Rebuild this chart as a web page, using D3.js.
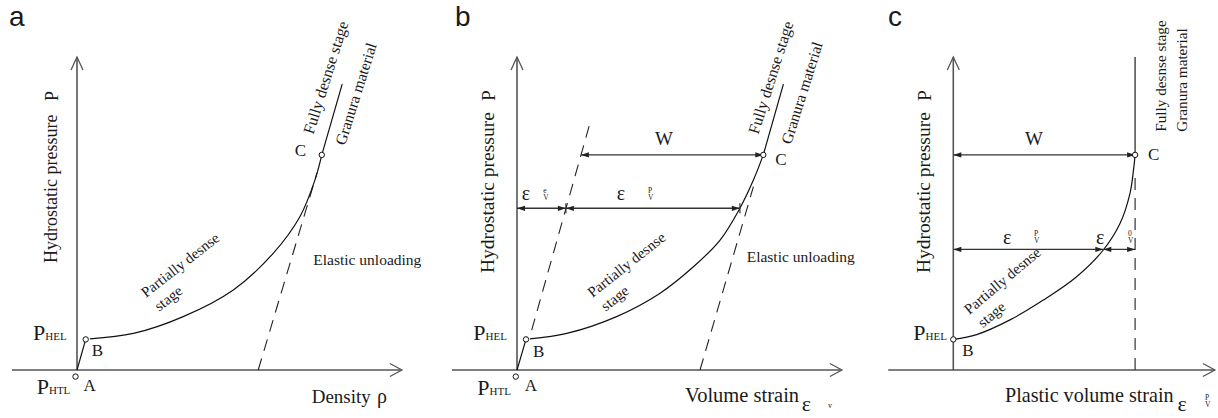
<!DOCTYPE html>
<html><head><meta charset="utf-8">
<script src="https://cdn.jsdelivr.net/npm/d3@7"></script>
<style>
html,body{margin:0;padding:0;background:#fff;}
svg{display:block;}
text{font-family:"Liberation Serif","Times New Roman",serif;fill:#1a1a1a;}
</style></head><body>
<svg id="chart" width="1218" height="418"></svg>
<script>
// ---------------- data ----------------
const panelLetters = ["a", "b", "c"];
const yTitle = "Hydrostatic pressure";
const yTitleSymbol = "P";
const xTitles = ["Density", "Volume strain", "Plastic volume strain"];
const xTitleSymbols = ["ρ", "ε", "ε"];
const stageLabels = ["Partially desnse", "stage"];
const denseLabel = "Fully desnse stage";
const materialLabel = "Granura material";
const unloadLabel = "Elastic unloading";
const pressureLabels = ["P", "HEL", "HTL"];
const widthLabel = "W";
const epsLabel = "ε";

// loading curves: [strain units, pressure units]
const curveA = [[4.3,10.4],[18.8,12.2],[35.4,17.8],[52.1,26.7],[65.4,38.9],[74.3,51.1],[79.3,63.3],[81.6,71.7]];
const curveB = [[4.3,10.4],[16.6,12.2],[33.2,17.8],[47.7,25.6],[58.8,34.4],[67.7,43.3],[74.3,53.9],[78.8,63.3],[82.1,71.7]];
const curveC = [[0,10.2],[7.8,11.8],[18.9,16.7],[30,23.3],[41.1,31.1],[50,40],[55.6,48.9],[58.9,58.9],[60.2,67.8],[60.6,71.7]];
const rampA = [[0,0],[2.9,10.2]];
const rampB = [[0,0],[3.0,10.2]];
const extensionA = [[81.6,71.7],[88.4,95.3]];
const extensionB = [[82.1,71.7],[88.8,95.3]];
const unloadA = [[60.4,0],[80.0,65.7]];
const unloadB1 = [[4.9,13.3],[24.6,83.3]];
const unloadB2 = [[61.0,0],[78.8,61.1]];
const verticalC = [[60.6,71.7],[60.6,104.3]];
const dashedC = [[60.6,0],[60.6,65.7]];
const pointsA = [{name:"A",x:-0.5,y:-2.2},{name:"B",x:2.9,y:10.2},{name:"C",x:81.6,y:71.7}];
const pointsB = [{name:"A",x:-0.4,y:-2.2},{name:"B",x:3.0,y:10.2},{name:"C",x:82.1,y:71.7}];
const pointsC = [{name:"B",x:0,y:10.2},{name:"C",x:60.6,y:71.7}];
// dimension lines: [x1, x2] at a pressure level
const wLevelB = 71.7, wSpanB = [21.3, 82.1];
const eLevelB = 53.9, eSegmentsB = [[0,16.3],[16.3,74.3]];
const wLevelC = 71.7, wSpanC = [0, 60.6];
const eLevelC = 40.2, eSegmentsC = [[0,50],[50,60.6]];
const yAxisTop = 104.3, xAxisStart = -21.7, xAxisEnds = [108.3, 108.3, 87.2];

// ---------------- drawing ----------------
const svg = d3.select("#chart");
const origins = [77, 517, 953.3];
const AXIS = "#555", INK = "#111";

function scales(ox){
  return {
    x: d3.scaleLinear().domain([0,100]).range([ox, ox+300]),
    y: d3.scaleLinear().domain([0,100]).range([370, 70])
  };
}
function txt(x, y, s, size, opts={}){
  const t = svg.append("text").attr("x", x).attr("y", y).attr("font-size", size).text(s);
  if (opts.family) t.style("font-family", opts.family);
  if (opts.anchor) t.attr("text-anchor", opts.anchor);
  return t;
}
function rtxt(x, y, angle, s, size){
  return svg.append("text").attr("transform", `translate(${x},${y}) rotate(${angle})`)
    .attr("font-size", size).text(s);
}
function arrowHead(px, py, dir){
  const L = 8, h = 2.6;
  svg.append("path")
    .attr("d", `M${px},${py}L${px-dir*L},${py-h}L${px-dir*L},${py+h}Z`)
    .attr("fill", "#222");
}
function polyline(sc, pts, stroke, width, dash, curved){
  const ln = d3.line().x(d=>sc.x(d[0])).y(d=>sc.y(d[1]));
  if (curved) ln.curve(d3.curveCatmullRom.alpha(0.5));
  const p = svg.append("path").attr("d", ln(pts)).attr("fill","none")
    .attr("stroke", stroke).attr("stroke-width", width);
  if (dash) p.attr("stroke-dasharray", dash);
  return p;
}
function axes(sc, i){
  const x0 = sc.x(0), y0 = sc.y(0), yt = sc.y(yAxisTop);
  const xs = sc.x(xAxisStart), xe = sc.x(xAxisEnds[i]);
  svg.append("line").attr("x1",x0).attr("x2",x0).attr("y1",y0).attr("y2",yt)
    .attr("stroke",AXIS).attr("stroke-width",1.6);
  svg.append("path").attr("d",`M${x0-6},${yt+13}L${x0},${yt}L${x0+6},${yt+13}`)
    .attr("fill","none").attr("stroke",AXIS).attr("stroke-width",1.3);
  svg.append("line").attr("x1",xs).attr("x2",xe).attr("y1",y0).attr("y2",y0)
    .attr("stroke",AXIS).attr("stroke-width",1.6);
  svg.append("path").attr("d",`M${xe-12},${y0-6.5}L${xe},${y0}L${xe-12},${y0+6.5}`)
    .attr("fill","none").attr("stroke",AXIS).attr("stroke-width",1.3);
}
function circles(sc, pts){
  svg.selectAll(null).data(pts).enter().append("circle")
    .attr("cx", d=>sc.x(d.x)).attr("cy", d=>sc.y(d.y)).attr("r", 2.7)
    .attr("fill","#fff").attr("stroke",INK).attr("stroke-width",1);
}
function dimLine(sc, level, x1, x2){
  const y = sc.y(level);
  svg.append("line").attr("x1",sc.x(x1)).attr("x2",sc.x(x2)).attr("y1",y).attr("y2",y)
    .attr("stroke","#333").attr("stroke-width",1.4);
  arrowHead(sc.x(x1), y, -1);
  arrowHead(sc.x(x2), y, 1);
}
function yTitles(sc, baseDx, startY, size){
  const bx = sc.x(0) + baseDx;
  rtxt(bx, startY, -90, yTitle, size);
  rtxt(bx + 1, 101, -90, yTitleSymbol, size);
}
function pLabel(x, y, sub){
  const t = txt(x, y, pressureLabels[0], 22);
  t.append("tspan").attr("font-size", 11).text(sub);
}
function stageText(x, y, angle){
  const g = svg.append("g").attr("transform", `translate(${x},${y}) rotate(${angle})`);
  g.append("text").attr("x",0).attr("y",0).attr("font-size",15).text(stageLabels[0]);
  g.append("text").attr("x",2).attr("y",19).attr("font-size",15).text(stageLabels[1]);
}
function epsStack(x, y, top, bottom, size){
  txt(x, y - 7.5, top, size);
  txt(x, y, bottom, size);
}

// panel letters
panelLetters.forEach((l, i) => {
  txt([9, 455, 888][i], 26, l, 28, {family: '"Liberation Sans", Arial, sans-serif'});
});

// ---- panel a ----
{
  const sc = scales(origins[0]);
  axes(sc, 0);
  polyline(sc, unloadA, "#222", 1.1, "12,8");
  polyline(sc, rampA, INK, 1.2);
  polyline(sc, curveA, INK, 1.2, null, true);
  polyline(sc, extensionA, INK, 1.2);
  circles(sc, pointsA);
  yTitles(sc, -20, 263, 18);
  pLabel(33, 340, pressureLabels[1]);
  pLabel(36.7, 394.3, pressureLabels[2]);
  txt(sc.x(pointsA[0].x) + 8, 391, "A", 17);
  txt(sc.x(pointsA[1].x) + 6, 356, "B", 17);
  txt(sc.x(pointsA[2].x) - 27, 156, "C", 17);
  stageText(146, 298, -38);
  rtxt(313.3, 135, -72.5, denseLabel, 16);
  rtxt(345, 146, -72.5, materialLabel, 15.6);
  txt(313.3, 265, unloadLabel, 15.5);
  txt(311.7, 403.3, xTitles[0], 19);
  txt(377, 403.3, xTitleSymbols[0], 20);
}

// ---- panel b ----
{
  const sc = scales(origins[1]);
  axes(sc, 1);
  polyline(sc, unloadB1, "#222", 1.1, "12,8");
  polyline(sc, unloadB2, "#222", 1.1, "12,8");
  polyline(sc, rampB, INK, 1.2);
  polyline(sc, curveB, INK, 1.2, null, true);
  polyline(sc, extensionB, INK, 1.2);
  dimLine(sc, wLevelB, wSpanB[0], wSpanB[1]);
  eSegmentsB.forEach(s => dimLine(sc, eLevelB, s[0], s[1]));
  [eSegmentsB[0][1], eSegmentsB[1][1]].forEach(v => {
    svg.append("line").attr("x1",sc.x(v)).attr("x2",sc.x(v))
      .attr("y1",sc.y(eLevelB)-5).attr("y2",sc.y(eLevelB)+5)
      .attr("stroke","#333").attr("stroke-width",1.2);
  });
  circles(sc, pointsB);
  yTitles(sc, -23, 273, 19.5);
  pLabel(473.3, 340, pressureLabels[1]);
  pLabel(477.3, 395, pressureLabels[2]);
  txt(sc.x(pointsB[0].x) + 9, 391, "A", 17);
  txt(sc.x(pointsB[1].x) + 7, 356.7, "B", 17);
  txt(sc.x(pointsB[2].x) + 12, 165, "C", 17);
  txt(655, 145, widthLabel, 19);
  txt(521.7, 200, epsLabel, 20);
  epsStack(543.3, 200, "e", "V", 7.5);
  txt(616.7, 200, epsLabel, 20);
  epsStack(648, 200, "P", "V", 7.5);
  stageText(592.5, 298, -38.4);
  rtxt(758.3, 135, -72.5, denseLabel, 16);
  rtxt(791, 145, -72.5, materialLabel, 15.6);
  txt(746.7, 262, unloadLabel, 15.5);
  txt(685, 401.7, xTitles[1], 20.5);
  txt(801.7, 411, xTitleSymbols[1], 22);
  txt(828, 408, "v", 8);
}

// ---- panel c ----
{
  const sc = scales(origins[2]);
  axes(sc, 2);
  polyline(sc, dashedC, "#333", 1.2, "12,8");
  polyline(sc, verticalC, AXIS, 1.6);
  polyline(sc, curveC, INK, 1.2, null, true);
  dimLine(sc, wLevelC, wSpanC[0], wSpanC[1]);
  eSegmentsC.forEach(s => dimLine(sc, eLevelC, s[0], s[1]));
  circles(sc, pointsC);
  yTitles(sc, -23, 273, 19.5);
  pLabel(913.3, 340, pressureLabels[1]);
  txt(sc.x(pointsC[0].x) + 9, 356, "B", 17);
  txt(sc.x(pointsC[1].x) + 13, 160, "C", 17);
  txt(1025, 145, widthLabel, 19);
  txt(1003, 244, epsLabel, 20);
  epsStack(1034, 243, "P", "V", 7.5);
  txt(1096, 244, epsLabel, 20);
  epsStack(1128, 243, "0", "V", 7.5);
  stageText(969.3, 315, -40);
  rtxt(1166, 131.7, -90, denseLabel, 15.2);
  rtxt(1187, 131.7, -90, materialLabel, 15.2);
  txt(1005, 401.7, xTitles[2], 20.1);
  txt(1177.5, 410.7, xTitleSymbols[2], 22);
  epsStack(1205, 407, "P", "V", 7.5);
}
</script>
</body></html>
